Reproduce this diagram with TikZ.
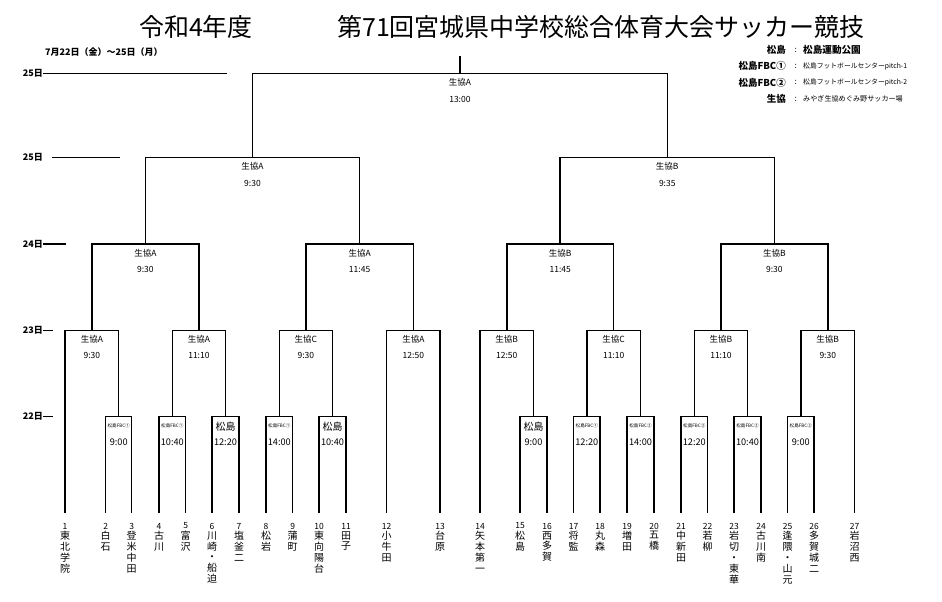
\documentclass[tikz,border=0pt]{standalone}
\usepackage{fontspec}
\setmainfont{Noto Sans CJK JP}
\usetikzlibrary{calc}
\begin{document}
\begin{tikzpicture}[x=1pt,y=-1pt]
\tikzset{
  brk/.style={line width=1.5pt, line join=miter, line cap=butt},
  axisline/.style={line width=1.4pt},
  venue/.style={font=\fontsize{8.5}{9}\selectfont, inner sep=0},
  bigvenue/.style={font=\fontsize{10}{10}\selectfont, inner sep=0},
  tinyvenue/.style={font=\fontsize{4.6}{5}\selectfont, inner sep=0},
  timelbl/.style={font=\fontsize{8.5}{9}\selectfont, inner sep=0},
  timebig/.style={font=\fontsize{9.2}{9.5}\selectfont, inner sep=0},
  numlbl/.style={font=\fontsize{8.5}{9}\selectfont, inner sep=0},
  teamlbl/.style={font=\fontsize{10}{10.8}\selectfont, align=center, inner sep=0, anchor=north},
  axislbl/.style={font=\fontsize{9}{9}\selectfont\bfseries, inner sep=0, anchor=east},
  legkey/.style={font=\fontsize{9.5}{10}\selectfont\bfseries, inner sep=0, anchor=east},
  legval/.style={inner sep=0, anchor=west},
  titlelbl/.style={font=\fontsize{25}{26}\selectfont, inner sep=0}
}
\useasboundingbox (0,0) rectangle (942,602);
\fill[white] (0,0) rectangle (942,602);

% titles
\node[titlelbl] (title1) at (196,27) {令和4年度};
\node[titlelbl] (title2) at (601,27) {第71回宮城県中学校総合体育大会サッカー競技};
\node[inner sep=0, anchor=west, font=\fontsize{9}{9}\selectfont\bfseries] (dates) at (45,52) {7月22日（金）～25日（月）};

% legend
\node[legkey] (k1) at (786,50) {松島};
\node[legkey] (k2) at (786,66) {松島FBC①};
\node[legkey] (k3) at (786,82.5) {松島FBC②};
\node[legkey] (k4) at (786,99.3) {生協};
\foreach \i/\yy in {1/50,2/66,3/82.5,4/99.3}{
  \node[inner sep=0, font=\fontsize{8}{8}\selectfont] (c\i) at (795.7,\yy) {:};
}
\node[legval, font=\fontsize{9.6}{10}\selectfont\bfseries] (v1) at (803,50) {松島運動公園};
\node[legval, font=\fontsize{6.8}{7}\selectfont] (v2) at (803,66) {松島フットボールセンターpitch-1};
\node[legval, font=\fontsize{6.8}{7}\selectfont] (v3) at (803,82.5) {松島フットボールセンターpitch-2};
\node[legval, font=\fontsize{7.1}{7.5}\selectfont] (v4) at (803,99.3) {みやぎ生協めぐみ野サッカー場};

% axis labels
\node[axislbl] (d25a) at (43,73.7) {25日};
\node[axislbl] (d25b) at (43,157.7) {25日};
\node[axislbl] (d24) at (43,244) {24日};
\node[axislbl] (d23) at (43,330.3) {23日};
\node[axislbl] (d22) at (43,416.7) {22日};
\coordinate (e25a) at (227,73.7);
\coordinate (s25b) at (52,157.7);
\coordinate (e25b) at (120,157.7);
\coordinate (e24) at (66,244);
\coordinate (e23) at (53,330.3);
\coordinate (e22) at (53,416.7);
\draw[axisline] (d25a.east) -- (e25a);
\draw[axisline] (s25b) -- (e25b);
\draw[axisline] (d24.east) -- (e24);
\draw[axisline] (d23.east) -- (e23);
\draw[axisline] (d22.east) -- (e22);

% teams
\foreach \n/\xx/\nm in {
  1/65/{東\\北\\学\\院},
  2/105.7/{白\\石},
  3/131.7/{登\\米\\中\\田},
  4/159/{古\\川},
  5/185.7/{富\\沢},
  6/212/{川\\崎\\・\\船\\迫},
  7/239/{塩\\釜\\二},
  8/266/{松\\岩},
  9/292.7/{蒲\\町},
  10/319/{東\\向\\陽\\台},
  11/346/{田\\子},
  12/386.7/{小\\牛\\田},
  13/440/{台\\原},
  14/480/{矢\\本\\第\\一},
  15/520/{松\\島},
  16/547/{西\\多\\賀},
  17/573.7/{将\\監},
  18/600/{丸\\森},
  19/627/{増\\田},
  20/654/{五\\橋},
  21/681/{中\\新\\田},
  22/707.7/{若\\柳},
  23/734/{岩\\切\\・\\東\\華},
  24/761/{古\\川\\南},
  25/787.7/{逢\\隈\\・\\山\\元},
  26/814/{多\\賀\\城\\二},
  27/854.7/{岩\\沼\\西}}{
  \coordinate (b\n) at (\xx,513);
  \node[numlbl] (num\n) at (\xx,526) {\n};
  \node[teamlbl] (tm\n) at (\xx,531.2) {\nm};
}

% round 1 (22日)
\coordinate (ra) at (118.7,416.7);
\coordinate (rb) at (172.3,416.7);
\coordinate (rc) at (225.5,416.7);
\coordinate (rd) at (279.3,416.7);
\coordinate (re) at (332.5,416.7);
\coordinate (rf) at (533.5,416.7);
\coordinate (rg) at (586.8,416.7);
\coordinate (rh) at (640.5,416.7);
\coordinate (ri) at (694.3,416.7);
\coordinate (rj) at (747.5,416.7);
\coordinate (rk) at (800.8,416.7);
% round 2 (23日)
\coordinate (s1) at (91.85,330.3);
\coordinate (s2) at (198.9,330.3);
\coordinate (s3) at (305.9,330.3);
\coordinate (s4) at (413.35,330.3);
\coordinate (s5) at (506.75,330.3);
\coordinate (s6) at (613.65,330.3);
\coordinate (s7) at (720.9,330.3);
\coordinate (s8) at (827.75,330.3);
% quarter (24日)
\coordinate (q1) at (145.4,244);
\coordinate (q2) at (359.6,244);
\coordinate (q3) at (560.2,244);
\coordinate (q4) at (774.3,244);
% semi (25日)
\coordinate (f1) at (252.5,157.7);
\coordinate (f2) at (667.25,157.7);
% final
\coordinate (fin) at (459.9,73.7);
\coordinate (top) at (459.9,56);

% bracket lines
\draw[brk] (b2) |- (ra) -| (b3);
\draw[brk] (b4) |- (rb) -| (b5);
\draw[brk] (b6) |- (rc) -| (b7);
\draw[brk] (b8) |- (rd) -| (b9);
\draw[brk] (b10) |- (re) -| (b11);
\draw[brk] (b15) |- (rf) -| (b16);
\draw[brk] (b17) |- (rg) -| (b18);
\draw[brk] (b19) |- (rh) -| (b20);
\draw[brk] (b21) |- (ri) -| (b22);
\draw[brk] (b23) |- (rj) -| (b24);
\draw[brk] (b25) |- (rk) -| (b26);

\draw[brk] (b1) |- (s1) -| (ra);
\draw[brk] (rb) |- (s2) -| (rc);
\draw[brk] (rd) |- (s3) -| (re);
\draw[brk] (b12) |- (s4) -| (b13);
\draw[brk] (b14) |- (s5) -| (rf);
\draw[brk] (rg) |- (s6) -| (rh);
\draw[brk] (ri) |- (s7) -| (rj);
\draw[brk] (rk) |- (s8) -| (b27);

\draw[brk] (s1) |- (q1) -| (s2);
\draw[brk] (s3) |- (q2) -| (s4);
\draw[brk] (s5) |- (q3) -| (s6);
\draw[brk] (s7) |- (q4) -| (s8);

\draw[brk] (q1) |- (f1) -| (q2);
\draw[brk] (q3) |- (f2) -| (q4);

\draw[brk] (f1) |- (fin) -| (f2);
\draw[brk] (fin) -- (top);

% match labels: upper rounds
\foreach \m/\v/\t in {fin/生協A/13:00, f1/生協A/9:30, f2/生協B/9:35,
  q1/生協A/9:30, q2/生協A/11:45, q3/生協B/11:45, q4/生協B/9:30,
  s1/生協A/9:30, s2/生協A/11:10, s3/生協C/9:30, s4/生協A/12:50,
  s5/生協B/12:50, s6/生協C/11:10, s7/生協B/11:10, s8/生協B/9:30}{
  \node[venue] (\m v) at ($(\m)+(0,9)$) {\v};
  \node[timelbl] (\m t) at ($(\m)+(0,25.5)$) {\t};
}
% match labels: first round
\foreach \m/\v/\t/\st in {ra/松島FBC①/9:00/tinyvenue, rb/松島FBC①/10:40/tinyvenue,
  rc/松島/12:20/bigvenue, rd/松島FBC①/14:00/tinyvenue, re/松島/10:40/bigvenue,
  rf/松島/9:00/bigvenue, rg/松島FBC①/12:20/tinyvenue, rh/松島FBC②/14:00/tinyvenue,
  ri/松島FBC②/12:20/tinyvenue, rj/松島FBC②/10:40/tinyvenue, rk/松島FBC②/9:00/tinyvenue}{
  \node[\st] (\m v) at ($(\m)+(0,9.5)$) {\v};
  \node[timebig] (\m t) at ($(\m)+(0,26)$) {\t};
}
\end{tikzpicture}
\end{document}
